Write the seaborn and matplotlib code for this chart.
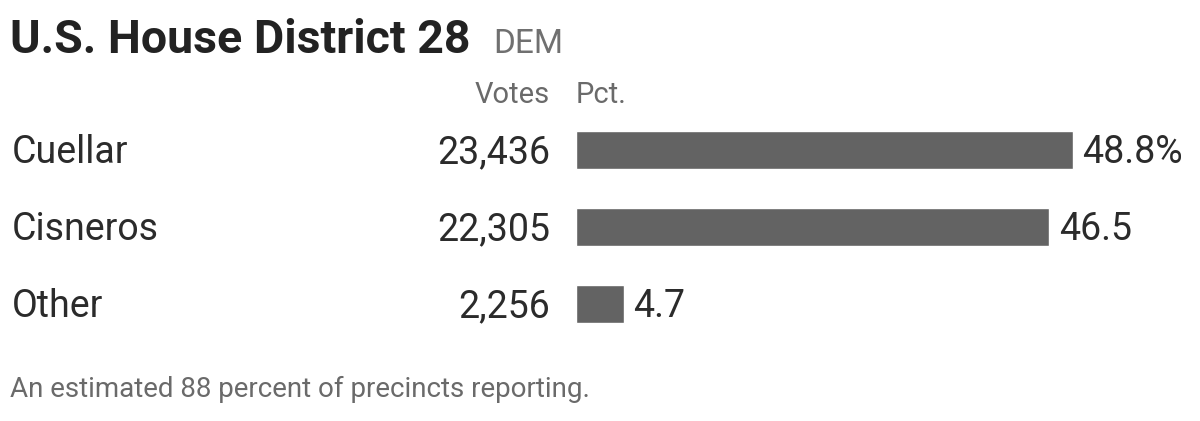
import matplotlib
matplotlib.use("Agg")
import matplotlib.pyplot as plt
import matplotlib.transforms as mtransforms
import seaborn as sns
import pandas as pd

# --------------------------
# Data
# --------------------------
candidates = ["Cuellar", "Cisneros", "Other"]
votes = [23436, 22305, 2256]
pct = [48.8, 46.5, 4.7]
pct_labels = ["48.8%", "46.5", "4.7"]

title = "U.S. House District 28"
party = "DEM"
note = "An estimated 88 percent of precincts reporting."

df = pd.DataFrame({"candidate": candidates, "votes": votes, "pct": pct})

# --------------------------
# Style
# --------------------------
sns.set_theme(style="white")
plt.rcParams["font.family"] = ["Roboto", "DejaVu Sans"]

W, H = 1200, 421
fig = plt.figure(figsize=(W / 100, H / 100), dpi=100)

# axes covering only the bar area
ax = fig.add_axes([576 / W, 1 - 342.5 / H, (W - 576) / W, 231 / H])
sns.barplot(data=df, x="pct", y="candidate", orient="h", color="#636363",
            saturation=1, width=0.494, ax=ax)
ax.set_xlim(0, (W - 576) / 10.18)
ax.set_ylim(2.5, -0.5)
ax.axis("off")

# value labels at the end of bars
for i, (p, lab) in enumerate(zip(pct, pct_labels)):
    ax.text(p + 0.95, i + 0.17, lab, fontsize=27, color="#2b2b2b",
            ha="left", va="baseline")

# names and vote counts (figure x, data y)
trans = mtransforms.blended_transform_factory(fig.transFigure, ax.transData)
for i, (name, v) in enumerate(zip(candidates, votes)):
    ax.text(12 / W, i + 0.17, name, transform=trans, fontsize=27,
            color="#2b2b2b", ha="left", va="baseline")
    ax.text(550 / W, i + 0.17, f"{v:,}", transform=trans, fontsize=27,
            color="#2b2b2b", ha="right", va="baseline")

# title and headers
fig.text(10 / W, 1 - 53 / H, title, fontsize=33.5, fontweight="bold",
         color="#222222", ha="left", va="baseline")
fig.text(493 / W, 1 - 53 / H, party, fontsize=24, color="#707070",
         ha="left", va="baseline")
fig.text(550 / W, 1 - 103 / H, "Votes", fontsize=21, color="#6a6a6a",
         ha="right", va="baseline")
fig.text(576 / W, 1 - 103 / H, "Pct.", fontsize=21, color="#6a6a6a",
         ha="left", va="baseline")

# footnote
fig.text(10 / W, 1 - 397 / H, note, fontsize=20, color="#6a6a6a",
         ha="left", va="baseline")

fig.savefig("out.png", dpi=100, facecolor="white")
